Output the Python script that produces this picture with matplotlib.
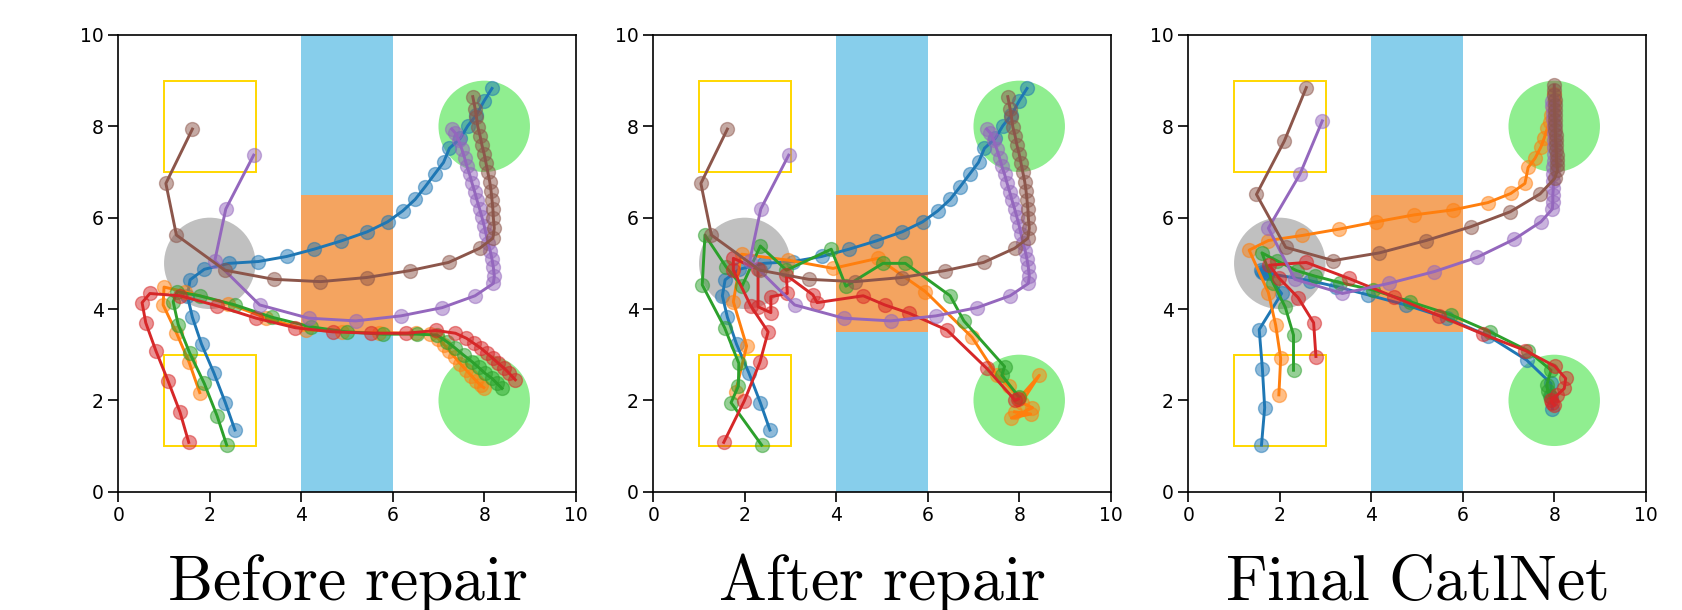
import numpy as np
import matplotlib
matplotlib.use('Agg')
import matplotlib.pyplot as plt
from matplotlib.patches import Circle, Rectangle

plt.rcParams['mathtext.fontset'] = 'cm'

titles = ['Before repair', 'After repair', 'Final CatlNet']
colors = ['tab:blue', 'tab:orange', 'tab:green', 'tab:red', 'tab:purple', 'tab:brown']

# shared by "before" and "after"
blue_12 = [(2.55, 1.35), (2.34, 1.95), (2.09, 2.60), (1.82, 3.23), (1.62, 3.82), (1.51, 4.29),
           (1.57, 4.64), (1.88, 4.87), (2.42, 5.00), (3.06, 5.04), (3.68, 5.15), (4.28, 5.31),
           (4.87, 5.49), (5.44, 5.69), (5.89, 5.91), (6.22, 6.15), (6.49, 6.40), (6.71, 6.68),
           (6.92, 6.96), (7.11, 7.21), (7.24, 7.52), (7.48, 7.74), (7.64, 8.01), (7.83, 8.25),
           (8.00, 8.56), (8.17, 8.83)]
purple_12 = [(2.96, 7.37), (2.35, 6.19), (2.11, 5.06), (3.09, 4.09), (4.16, 3.80), (5.19, 3.74),
             (6.18, 3.85), (7.08, 4.03), (7.80, 4.29), (8.20, 4.56), (8.22, 4.72), (8.20, 4.91),
             (8.17, 5.09), (8.13, 5.28), (8.08, 5.45), (8.04, 5.64), (8.00, 5.82), (7.95, 6.01),
             (7.90, 6.19), (7.84, 6.39), (7.79, 6.57), (7.73, 6.77), (7.68, 6.95), (7.62, 7.13),
             (7.57, 7.31), (7.51, 7.50), (7.44, 7.70), (7.37, 7.85), (7.29, 7.94)]
brown_12 = [(1.62, 7.94), (1.04, 6.75), (1.27, 5.62), (2.33, 4.85), (3.40, 4.65), (4.42, 4.60),
            (5.43, 4.69), (6.37, 4.84), (7.22, 5.02), (7.90, 5.33), (8.19, 5.55), (8.22, 5.77),
            (8.20, 5.99), (8.19, 6.18), (8.17, 6.39), (8.15, 6.58), (8.12, 6.79), (8.08, 6.99),
            (8.04, 7.19), (8.00, 7.39), (7.95, 7.59), (7.91, 7.79), (7.86, 7.99), (7.83, 8.20),
            (7.80, 8.39), (7.75, 8.65)]

before_orange = [(1.78, 2.17), (1.55, 2.83), (1.27, 3.48), (0.98, 4.09), (1.00, 4.48), (1.45, 4.38),
                 (2.40, 4.12), (3.24, 3.80), (4.10, 3.55), (4.90, 3.50), (5.70, 3.48), (6.50, 3.47),
                 (6.82, 3.45), (7.00, 3.35), (7.12, 3.22), (7.24, 3.08), (7.36, 2.94), (7.48, 2.80),
                 (7.60, 2.67), (7.72, 2.54), (7.83, 2.42), (7.92, 2.33), (7.99, 2.28)]
before_green = [(2.37, 1.02), (2.16, 1.66), (1.88, 2.37), (1.56, 3.04), (1.31, 3.66), (1.20, 4.16),
                (1.29, 4.38), (1.78, 4.29), (2.55, 4.09), (3.36, 3.82), (4.21, 3.61), (4.99, 3.50),
                (5.79, 3.45), (6.52, 3.45), (6.97, 3.43), (7.19, 3.28), (7.37, 3.14), (7.55, 2.99),
                (7.73, 2.85), (7.88, 2.72), (8.02, 2.59), (8.17, 2.48), (8.28, 2.37), (8.39, 2.26)]
before_red = [(1.54, 1.08), (1.35, 1.74), (1.09, 2.42), (0.82, 3.09), (0.60, 3.70), (0.52, 4.14),
              (0.69, 4.34), (1.35, 4.29), (2.16, 4.07), (3.01, 3.80), (3.87, 3.59), (4.69, 3.50),
              (5.53, 3.47), (6.30, 3.47), (6.95, 3.53), (7.37, 3.47), (7.61, 3.36), (7.77, 3.25),
              (7.93, 3.14), (8.06, 3.03), (8.19, 2.92), (8.31, 2.81), (8.44, 2.70), (8.55, 2.59),
              (8.68, 2.45)]

after_orange = [(1.80, 2.19), (2.04, 3.19), (1.75, 4.16), (1.93, 5.20), (2.95, 5.07), (3.93, 4.89),
                (4.91, 5.11), (5.95, 4.38), (6.97, 3.38), (7.51, 2.55), (7.77, 2.31), (8.00, 2.05),
                (8.44, 2.55), (8.05, 1.95), (8.29, 1.84), (7.83, 1.61), (8.25, 1.70), (7.90, 1.75)]
after_green = [(2.37, 1.02), (1.70, 1.95), (1.86, 2.31), (1.87, 2.81), (1.56, 3.59), (1.07, 4.53),
               (1.13, 5.62), (1.60, 4.91), (1.94, 4.50), (2.34, 5.38), (2.91, 4.85), (3.89, 5.31),
               (4.21, 4.50), (5.02, 5.00), (5.51, 5.00), (6.49, 4.29), (6.79, 3.74), (7.68, 2.74),
               (7.62, 2.55), (7.99, 2.08)]
after_red = [(1.54, 1.08), (1.99, 1.99), (2.33, 2.83), (2.51, 3.50), (2.13, 4.07), (1.75, 4.85),
             (1.75, 5.11), (2.29, 4.87), (2.29, 4.05), (2.57, 3.92), (2.57, 4.27), (2.93, 4.34),
             (2.91, 4.74), (3.49, 4.31), (3.58, 4.14), (4.59, 4.29), (5.06, 4.09), (5.59, 3.91),
             (6.42, 3.54), (7.29, 2.70), (7.91, 2.00), (7.98, 2.03)]

final_blue = [(1.60, 1.02), (1.67, 1.84), (1.62, 2.69), (1.55, 3.55), (2.04, 4.34), (1.70, 4.80),
              (1.62, 4.82), (1.58, 4.85), (1.65, 4.78), (1.75, 4.78), (2.66, 4.62), (3.24, 4.49),
              (3.93, 4.31), (4.75, 4.09), (5.66, 3.80), (6.56, 3.41), (7.40, 2.88), (7.93, 2.37),
              (7.93, 2.08), (7.96, 1.82)]
final_orange = [(1.98, 2.12), (2.02, 2.92), (1.91, 3.65), (1.75, 4.36), (1.33, 5.29), (1.75, 5.50),
                (2.49, 5.61), (3.30, 5.75), (4.11, 5.91), (4.93, 6.06), (5.78, 6.17), (6.55, 6.33),
                (7.05, 6.53), (7.36, 6.75), (7.43, 7.10), (7.58, 7.30), (7.71, 7.55), (7.78, 7.74),
                (7.85, 7.96), (7.90, 8.10), (7.94, 8.25), (7.97, 8.40), (7.99, 8.55), (8.00, 8.70)]
final_green = [(2.30, 2.66), (2.30, 3.43), (2.12, 4.04), (1.86, 4.56), (1.61, 5.23), (1.95, 5.05),
               (2.37, 4.84), (2.77, 4.72), (3.31, 4.58), (4.03, 4.42), (4.85, 4.16), (5.75, 3.87),
               (6.60, 3.50), (7.42, 3.09), (7.93, 2.66), (7.84, 2.34), (7.86, 2.20), (7.90, 2.10)]
final_red = [(2.79, 2.96), (2.74, 3.70), (2.40, 4.25), (1.99, 4.67), (1.77, 4.96), (2.58, 5.02),
             (3.51, 4.67), (4.49, 4.27), (5.49, 3.85), (6.44, 3.45), (7.37, 3.09), (8.01, 2.75),
             (8.25, 2.48), (8.22, 2.26), (8.07, 2.12), (7.93, 2.01), (7.95, 1.95), (8.00, 1.90)]
final_purple = [(2.93, 8.12), (2.44, 6.95), (1.75, 5.77), (2.33, 4.65), (3.37, 4.34), (4.38, 4.56),
                (5.38, 4.82), (6.31, 5.13), (7.13, 5.53), (7.71, 5.91), (7.96, 6.19), (7.97, 6.35),
                (7.97, 6.50), (7.98, 6.65), (7.98, 6.80), (7.98, 6.95), (7.98, 7.10), (7.99, 7.25),
                (7.99, 7.40), (7.99, 7.55), (7.99, 7.70), (7.99, 7.85), (7.99, 8.00), (7.98, 8.15),
                (7.97, 8.30), (7.96, 8.45), (7.95, 8.55)]
final_brown = [(2.58, 8.85), (2.10, 7.68), (1.49, 6.51), (2.13, 5.35), (3.17, 5.06), (4.18, 5.23),
               (5.20, 5.50), (6.17, 5.80), (7.04, 6.13), (7.69, 6.52), (8.01, 6.86), (8.07, 7.04),
               (8.06, 7.15), (8.05, 7.26), (8.05, 7.37), (8.04, 7.48), (8.04, 7.59), (8.03, 7.70),
               (8.03, 7.81), (8.02, 7.92), (8.02, 8.03), (8.02, 8.14), (8.01, 8.25), (8.01, 8.36),
               (8.01, 8.47), (8.01, 8.58), (8.00, 8.69), (8.00, 8.80), (8.00, 8.90)]

panels = [
    [blue_12, before_orange, before_green, before_red, purple_12, brown_12],
    [blue_12, after_orange, after_green, after_red, purple_12, brown_12],
    [final_blue, final_orange, final_green, final_red, final_purple, final_brown],
]

fig = plt.figure(figsize=(16.83, 6.10), dpi=100)
lefts = [118.3, 653.3, 1188.3]
W, H = 1683.0, 610.0

for k in range(3):
    ax = fig.add_axes([lefts[k] / W, 1 - 491.7 / H, 457.4 / W, 456.7 / H])
    ax.set_xlim(0, 10)
    ax.set_ylim(0, 10)

    # environment
    ax.add_patch(Rectangle((4, 0), 2, 10, color='skyblue', lw=0, zorder=0))
    ax.add_patch(Rectangle((4, 3.5), 2, 3, color='sandybrown', lw=0, zorder=0.5))
    ax.add_patch(Circle((8, 8), 1, color='lightgreen', lw=0, zorder=0.5))
    ax.add_patch(Circle((8, 2), 1, color='lightgreen', lw=0, zorder=0.5))
    ax.add_patch(Circle((2, 5), 1, color='silver', lw=0, zorder=0.5))
    ax.add_patch(Rectangle((1, 7), 2, 2, fill=False, edgecolor='gold', lw=1.4, zorder=0.6))
    ax.add_patch(Rectangle((1, 1), 2, 2, fill=False, edgecolor='gold', lw=1.4, zorder=0.6))

    # trajectories
    for traj, c in zip(panels[k], colors):
        xs = [p[0] for p in traj]
        ys = [p[1] for p in traj]
        ax.plot(xs, ys, '-', color=c, lw=2.1, zorder=2)
        ax.plot(xs, ys, 'o', color=c, alpha=0.5, ms=10, zorder=2)

    ax.set_xticks([0, 2, 4, 6, 8, 10])
    ax.set_yticks([0, 2, 4, 6, 8, 10])
    ax.tick_params(labelsize=13.5, length=7, width=1.2)
    for s in ax.spines.values():
        s.set_linewidth(1.2)

    cx = (lefts[k] + 228.7) / W
    fig.text(cx, 1 - 600 / H, r'$\mathrm{' + titles[k].replace(' ', r'\ ') + '}$',
             ha='center', va='baseline', fontsize=46)

fig.savefig('out.png', dpi=100)
